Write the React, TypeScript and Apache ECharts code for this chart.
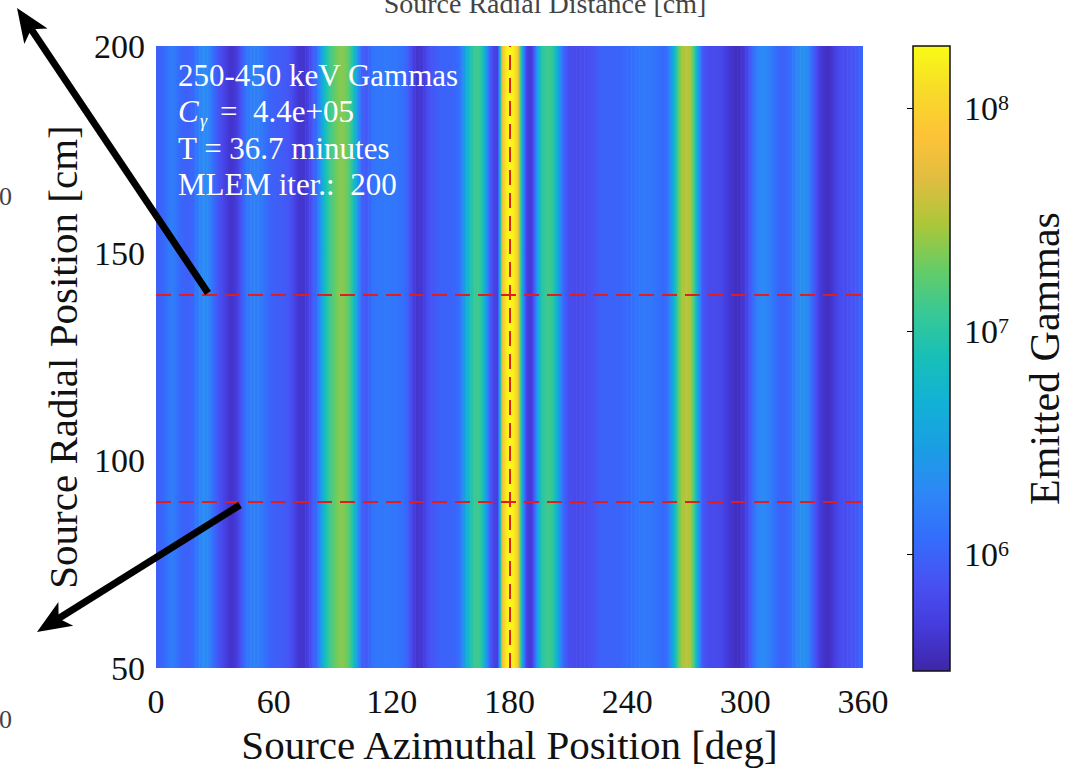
import React, { useEffect, useRef } from 'react';
import * as echarts from 'echarts';

// Reconstructed source intensity versus azimuth (2 deg sampling, 0..360 deg)
const AZIMUTH_STEP = 2;
const emittedGammas = [
  9.5e5, 1.0e6, 1.1e6, 1.4e6, 1.6e6, 1.4e6, 1.1e6, 1.0e6, 9.5e5, 1.0e6,
  1.3e6, 1.7e6, 2.1e6, 2.0e6, 1.5e6, 1.0e6, 7.5e5, 6e5, 4.8e5, 4e5,
  4.5e5, 6e5, 9.5e5, 1.4e6, 1.6e6, 1.7e6, 1.6e6, 1.45e6, 1.2e6, 1.0e6,
  9.5e5, 9e5, 9e5, 8.5e5, 7.5e5, 6e5, 4.5e5, 4e5, 4.5e5, 6e5,
  9e5, 1.3e6, 3.0e6, 7e6, 1.2e7, 1.6e7, 2.1e7, 2.4e7, 2.2e7, 1.7e7,
  9e6, 3.5e6, 1.2e6, 8e5, 9.5e5, 1.3e6, 1.4e6, 1.4e6, 1.45e6, 1.45e6,
  1.4e6, 1.4e6, 1.3e6, 1.2e6, 9.5e5, 6e5, 4.5e5, 4e5, 4.8e5, 6.5e5,
  8e5, 8.5e5, 9.5e5, 1.0e6, 1.0e6, 1.0e6, 1.05e6, 1.2e6, 2.0e6, 4.5e6,
  8e6, 1.2e7, 1.3e7, 9e6, 2.8e6, 9e5, 5.5e5, 5e5, 5e7, 1.5e8,
  1.9e8, 1.6e8, 9e7, 6e6, 7e5, 4e5, 6e5, 3e6, 9e6, 1.2e7,
  1.3e7, 1.1e7, 5e6, 1.8e6, 9.5e5, 7e5, 6.5e5, 6.5e5, 6.5e5, 7e5,
  7e5, 7.5e5, 8.5e5, 9.5e5, 1.0e6, 1.0e6, 1.0e6, 1.0e6, 1.0e6, 1.1e6,
  1.1e6, 1.2e6, 1.3e6, 1.4e6, 1.45e6, 1.45e6, 1.4e6, 1.3e6, 1.2e6, 1.1e6,
  1.2e6, 2.3e6, 6e6, 1.8e7, 3.0e7, 3.4e7, 3.0e7, 1.3e7, 3e6, 9e5,
  7e5, 6.5e5, 6.5e5, 6.5e5, 6e5, 5e5, 4.3e5, 3.9e5, 3.7e5, 4e5,
  5e5, 7.5e5, 1.2e6, 1.7e6, 2.0e6, 2.0e6, 1.7e6, 1.4e6, 1.1e6, 1.0e6,
  1.0e6, 1.1e6, 1.4e6, 1.8e6, 2.2e6, 2.3e6, 1.9e6, 1.1e6, 7e5, 4.8e5,
  4e5, 3.7e5, 4.3e5, 5.5e5, 6.5e5, 7e5, 7e5, 7.5e5, 8e5, 9.5e5,
  1.1e6,
];
const azimuthDeg = emittedGammas.map((_, i) => i * AZIMUTH_STEP);

const AZIMUTH_RANGE = [0, 360];
const AZIMUTH_TICK = 60;
const RADIAL_RANGE = [50, 200];
const RADIAL_TICK = 50;
const COLOR_LIMITS = [3e5, 1.9e8];
const RADIAL_CUTS = [140, 90];
const AZIMUTH_CUT = 180;

const infoLines = ['250-450 keV Gammas', 'T = 36.7 minutes', 'MLEM iter.:  200'];
const countRate = '4.4e+05';

const SERIF = '"Liberation Serif", "Times New Roman", serif';

// parula colormap stops (position, rgb 0..1)
const PARULA: [number, number[]][] = [
  [0.0, [0.2422, 0.1504, 0.6603]],
  [0.071, [0.27, 0.23, 0.86]],
  [0.143, [0.281, 0.3228, 0.9579]],
  [0.214, [0.2, 0.43, 0.99]],
  [0.286, [0.1786, 0.5289, 0.9682]],
  [0.357, [0.1, 0.62, 0.89]],
  [0.429, [0.0689, 0.6948, 0.8394]],
  [0.5, [0.09, 0.75, 0.72]],
  [0.571, [0.2161, 0.7843, 0.5923]],
  [0.643, [0.4, 0.8, 0.4]],
  [0.714, [0.672, 0.7793, 0.2227]],
  [0.786, [0.88, 0.74, 0.25]],
  [0.857, [0.997, 0.7659, 0.2199]],
  [0.929, [0.97, 0.86, 0.16]],
  [1.0, [0.9769, 0.9839, 0.0805]],
];

function parula(t: number): string {
  const c = Math.max(0, Math.min(1, t));
  for (let i = 1; i < PARULA.length; i++) {
    const [p1, c1] = PARULA[i];
    const [p0, c0] = PARULA[i - 1];
    if (c <= p1) {
      const f = (c - p0) / (p1 - p0);
      const rgb = c0.map((v, k) => Math.round(255 * (v + (c1[k] - v) * f)));
      return `rgb(${rgb[0]},${rgb[1]},${rgb[2]})`;
    }
  }
  const last = PARULA[PARULA.length - 1][1].map((v) => Math.round(255 * v));
  return `rgb(${last[0]},${last[1]},${last[2]})`;
}

const LOG_MIN = Math.log10(COLOR_LIMITS[0]);
const LOG_MAX = Math.log10(COLOR_LIMITS[1]);
const colorOfLog = (lv: number) => parula((lv - LOG_MIN) / (LOG_MAX - LOG_MIN));

function arrow(tail: number[], tip: number[], width: number, headLen: number, headHalf: number) {
  const dx = tip[0] - tail[0];
  const dy = tip[1] - tail[1];
  const L = Math.hypot(dx, dy);
  const ux = dx / L;
  const uy = dy / L;
  const nx = -uy;
  const ny = ux;
  const bx = tip[0] - ux * headLen;
  const by = tip[1] - uy * headLen;
  const notch = [tip[0] - ux * headLen * 0.75, tip[1] - uy * headLen * 0.75];
  return [
    {
      type: 'line',
      shape: { x1: tail[0], y1: tail[1], x2: notch[0] + ux * 2, y2: notch[1] + uy * 2 },
      style: { stroke: '#000', lineWidth: width },
      z: 100,
    },
    {
      type: 'polygon',
      shape: {
        points: [
          [tip[0], tip[1]],
          [bx + nx * headHalf, by + ny * headHalf],
          notch,
          [bx - nx * headHalf, by - ny * headHalf],
        ],
      },
      style: { fill: '#000' },
      z: 100,
    },
  ];
}

export default function App() {
  const ref = useRef<HTMLDivElement>(null);

  useEffect(() => {
    if (!ref.current) return;
    const chart = echarts.init(ref.current, undefined, { renderer: 'svg' });

    const segments = emittedGammas.slice(0, -1).map((v, i) => [
      azimuthDeg[i],
      azimuthDeg[i + 1],
      v,
      emittedGammas[i + 1],
    ]);

    const infoX = 178;
    const textStyle = { fill: '#fff', font: `31px ${SERIF}`, verticalAlign: 'middle' };

    chart.setOption({
      animation: false,
      backgroundColor: '#fff',
      grid: [
        { left: 156, top: 46, width: 707, height: 625 },
        { left: 913, top: 46, width: 37, height: 625 },
      ],
      xAxis: [
        {
          gridIndex: 0,
          type: 'value',
          min: AZIMUTH_RANGE[0],
          max: AZIMUTH_RANGE[1],
          interval: AZIMUTH_TICK,
          axisLine: { show: false },
          axisTick: { show: false },
          splitLine: { show: false },
          axisLabel: { margin: 16, color: '#111', fontFamily: SERIF, fontSize: 34 },
          name: 'Source Azimuthal Position [deg]',
          nameLocation: 'middle',
          nameGap: 56,
          nameTextStyle: { color: '#111', fontFamily: SERIF, fontSize: 41 },
        },
        { gridIndex: 1, type: 'value', min: 0, max: 1, show: false },
      ],
      yAxis: [
        {
          gridIndex: 0,
          type: 'value',
          min: RADIAL_RANGE[0],
          max: RADIAL_RANGE[1],
          interval: RADIAL_TICK,
          axisLine: { show: false },
          axisTick: { show: false },
          splitLine: { show: false },
          axisLabel: { margin: 11, color: '#111', fontFamily: SERIF, fontSize: 34 },
          name: 'Source Radial Position [cm]',
          nameLocation: 'middle',
          nameGap: 73,
          nameTextStyle: { color: '#111', fontFamily: SERIF, fontSize: 41 },
        },
        {
          gridIndex: 1,
          type: 'log',
          logBase: 10,
          min: COLOR_LIMITS[0],
          max: COLOR_LIMITS[1],
          position: 'right',
          axisLine: { show: false },
          axisTick: { show: true, inside: true, length: 6, lineStyle: { color: '#000', width: 1 } },
          splitLine: { show: false },
          axisLabel: {
            margin: 14,
            showMinLabel: false,
            showMaxLabel: false,
            formatter: (v: number) => {
              const e = Math.round(Math.log10(v));
              if (Math.abs(Math.log10(v) - e) > 1e-6) return '';
              return `{b|10}{s|${e}}`;
            },
            rich: {
              b: { fontFamily: SERIF, fontSize: 34, color: '#111', verticalAlign: 'bottom' },
              s: { fontFamily: SERIF, fontSize: 22, color: '#111', verticalAlign: 'top' },
            },
          },
          name: 'Emitted Gammas',
          nameLocation: 'middle',
          nameGap: 74,
          nameRotate: 90,
          nameTextStyle: { color: '#111', fontFamily: SERIF, fontSize: 42 },
        },
      ],
      series: [
        {
          type: 'custom',
          xAxisIndex: 0,
          yAxisIndex: 0,
          clip: true,
          silent: true,
          data: segments,
          encode: { x: [0, 1] },
          renderItem: (_params: any, api: any) => {
            const x0 = api.value(0);
            const x1 = api.value(1);
            const l0 = Math.log10(api.value(2));
            const l1 = Math.log10(api.value(3));
            const p0 = api.coord([x0, RADIAL_RANGE[1]]);
            const p1 = api.coord([x1, RADIAL_RANGE[0]]);
            const stops = [];
            const n = 10;
            for (let k = 0; k <= n; k++) {
              const f = k / n;
              stops.push({ offset: f, color: colorOfLog(l0 + (l1 - l0) * f) });
            }
            return {
              type: 'rect',
              shape: { x: p0[0], y: p0[1], width: p1[0] - p0[0] + 0.6, height: p1[1] - p0[1] },
              style: { fill: new echarts.graphic.LinearGradient(0, 0, 1, 0, stops) },
            };
          },
          markLine: {
            silent: true,
            symbol: ['none', 'none'],
            label: { show: false },
            lineStyle: { color: '#e01e1e', width: 2, type: [15, 8], opacity: 1 },
            data: [
              ...RADIAL_CUTS.map((r) => ({ yAxis: r })),
              { xAxis: AZIMUTH_CUT },
            ],
          },
        },
        {
          type: 'custom',
          xAxisIndex: 1,
          yAxisIndex: 1,
          silent: true,
          data: [[0]],
          renderItem: (_params: any, api: any) => {
            const p0 = api.coord([0, COLOR_LIMITS[1]]);
            const p1 = api.coord([1, COLOR_LIMITS[0]]);
            const stops = PARULA.map(([pos, rgb]) => ({
              offset: pos,
              color: `rgb(${rgb.map((v) => Math.round(v * 255)).join(',')})`,
            }));
            return {
              type: 'rect',
              shape: { x: p0[0], y: p0[1], width: p1[0] - p0[0], height: p1[1] - p0[1] },
              style: {
                fill: new echarts.graphic.LinearGradient(0, 1, 0, 0, stops),
                stroke: '#111',
                lineWidth: 1.5,
              },
            };
          },
        },
      ],
      graphic: [
        {
          type: 'text',
          x: infoX,
          y: 75,
          style: { ...textStyle, text: infoLines[0] },
          z: 50,
        },
        {
          type: 'text',
          x: infoX,
          y: 111,
          style: { ...textStyle, text: 'C', font: `italic 31px ${SERIF}` },
          z: 50,
        },
        {
          type: 'text',
          x: infoX + 22,
          y: 121,
          style: { ...textStyle, text: 'γ', font: `italic 18px ${SERIF}` },
          z: 50,
        },
        {
          type: 'text',
          x: infoX + 42,
          y: 111,
          style: { ...textStyle, text: `=  ${countRate}` },
          z: 50,
        },
        {
          type: 'text',
          x: infoX,
          y: 148,
          style: { ...textStyle, text: infoLines[1] },
          z: 50,
        },
        {
          type: 'text',
          x: infoX,
          y: 184,
          style: { ...textStyle, text: infoLines[2] },
          z: 50,
        },
        {
          type: 'text',
          x: 545,
          y: 3,
          style: {
            text: 'Source Radial Distance [cm]',
            fill: '#444',
            font: `28px ${SERIF}`,
            align: 'center',
            verticalAlign: 'middle',
          },
        },
        {
          type: 'text',
          x: 12,
          y: 196,
          style: { text: '0', fill: '#444', font: `26px ${SERIF}`, align: 'right', verticalAlign: 'middle' },
        },
        {
          type: 'text',
          x: 12,
          y: 719,
          style: { text: '0', fill: '#444', font: `26px ${SERIF}`, align: 'right', verticalAlign: 'middle' },
        },
        ...arrow([208, 293], [17, 8], 7, 34, 14),
        ...arrow([240, 505], [37, 632], 7, 34, 14),
      ],
    });

    return () => chart.dispose();
  }, []);

  return (
    <div
      ref={ref}
      style={{ position: 'absolute', left: 0, top: 0, width: 1071, height: 770 }}
    />
  );
}
